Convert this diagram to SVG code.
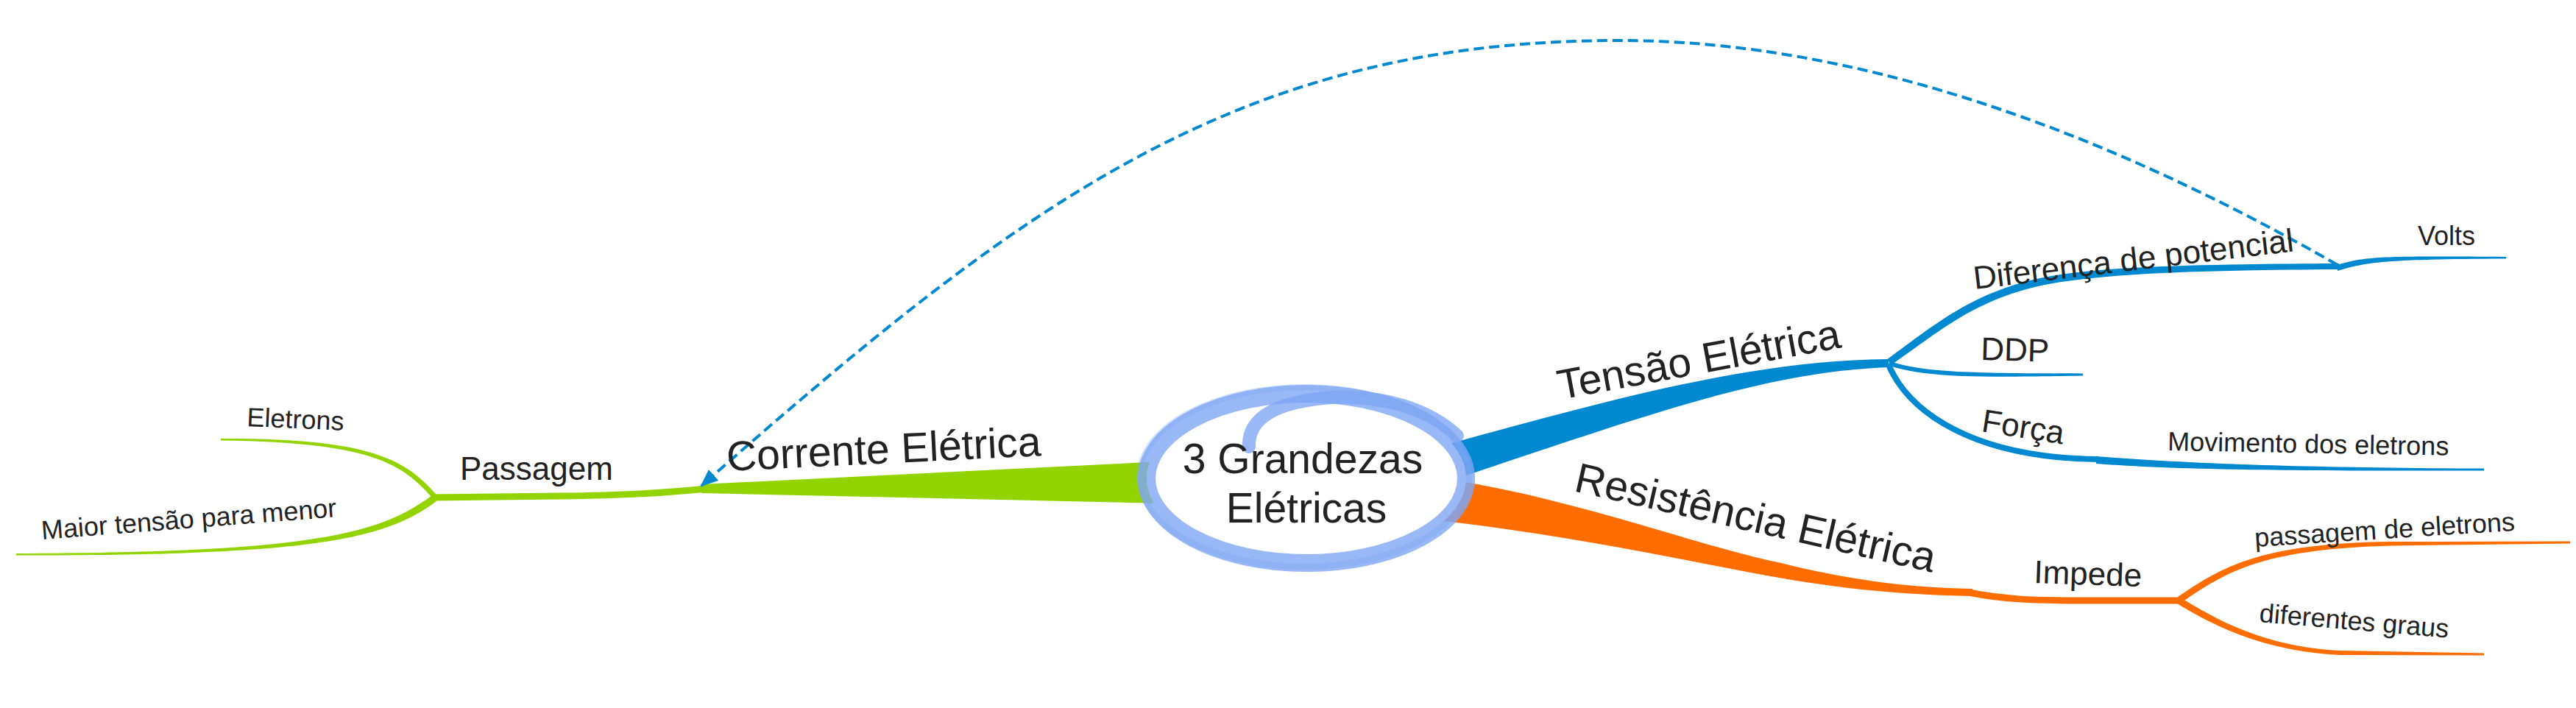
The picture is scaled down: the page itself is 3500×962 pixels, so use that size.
<svg xmlns="http://www.w3.org/2000/svg" width="3500" height="962" viewBox="0 0 3500 962">
<defs>
<style>
text { font-family: "Liberation Sans", Arial, sans-serif; fill: #222222; }
.t1 { font-size: 57px; }
.t2 { font-size: 44px; }
.t3 { font-size: 36px; }
.gf { fill: #93d400; }
.bf { fill: #0088d1; }
.of { fill: #ff6d00; }
.gs { stroke: #93d400; fill: none; }
.bs { stroke: #0088d1; fill: none; }
.os { stroke: #ff6d00; fill: none; }
.rel { stroke: #0088d1; stroke-width: 4; stroke-dasharray: 14 7; fill: none; }
.band { fill: none; stroke: #7ea6f4; stroke-linecap: round; }
</style>
<marker id="arr" markerUnits="userSpaceOnUse" markerWidth="24" markerHeight="20" viewBox="0 0 24 20" refX="22" refY="10" orient="auto">
<path d="M0,0 L24,10 L0,20 z" fill="#0088d1"/>
</marker>
</defs>
<rect width="3500" height="962" fill="#ffffff"/>

<g id="connectors">
<!-- green: Corrente Elétrica -->
<path class="gf" d="M1580,627 L953,658 L953,670 L1580,684 Z"/>
<path class="gs" stroke-width="9" d="M960,664 C900,670 850,673 760,674 L587,676"/>
<path class="gf" d="M593,672 C553,628 512,595 300,596 L300,598.5 C510,601 547,632 587,676 Z"/>
<path class="gf" d="M587,673 C517,726 420,751 22,752 L22,754.5 C420,755 523,734 593,681 Z"/>
<!-- blue: Tensão Elétrica -->
<path class="bf" d="M1965,604 C2200,540 2380,490 2565,488 L2568,499 C2400,505 2250,560 1962,656 Z"/>
<path class="bf" d="M2563,489 C2636,436 2688,390 2799,373 C2880,361 3000,359 3178,358 L3178,366 C3000,367 2880,371 2801,383 C2692,400 2644,444 2571,495 Z"/>
<path class="bf" d="M3176,360 C3215,348 3240,348 3405,349 L3405,351.5 C3240,352 3215,356 3176,368 Z"/>
<path class="bf" d="M2567,491 C2620,507 2680,507 2830,507.5 L2830,510.5 C2680,513 2620,513 2567,497 Z"/>
<path class="bs" stroke-width="8" d="M2567,498 C2595,560 2680,622 2850,624"/>
<path class="bf" d="M2848,620 C2950,628 3100,636 3375,636.5 L3375,639.5 C3100,640 2950,638 2848,630 Z"/>
<!-- orange: Resistência Elétrica -->
<path class="of" d="M1962,650 C2150,680 2300,740 2420,765 C2500,785 2580,798 2680,800 L2680,810 C2580,808 2500,800 2400,782 C2280,760 2150,730 1962,708 Z"/>
<path class="os" stroke-width="9" d="M2675,805 C2720,814 2760,816 2830,816 L2964,816"/>
<path class="of" d="M2959,811 C3017,772 3068,738 3250,736 L3492,735.5 L3492,738.5 L3250,741.5 C3072,746 3023,778 2965,818 Z"/>
<path class="of" d="M2966,814 C3004,837 3072,879 3180,884 L3375,887.5 L3375,890.5 L3180,890 C3068,885 2996,843 2958,820 Z"/>
<!-- relationship -->
<path class="rel" marker-end="url(#arr)" d="M3176,360 C2759,121 2436,55 2200,55 C1680,55 1388.6,277 953,660"/>
</g>

<g id="central">
<ellipse cx="1775" cy="650" rx="217" ry="115" fill="#ffffff"/>
<ellipse class="band" cx="1775" cy="650" rx="217" ry="115" stroke-width="24" opacity="0.8"/>
<ellipse class="band" cx="1772" cy="648" rx="224" ry="122" stroke-width="8" opacity="0.35"/>
<path class="band" stroke-width="18" opacity="0.8" d="M1697,607 C1695,565 1740,545 1810,540 C1880,537 1940,555 1980,592"/>
<text class="t1" x="1770" y="643" text-anchor="middle">3 Grandezas</text>
<text class="t1" x="1775" y="710" text-anchor="middle">Elétricas</text>
</g>

<g id="corrente"><text class="t1" x="988" y="640" transform="rotate(-2.8 988 640)">Corrente Elétrica</text></g>
<g id="passagem"><text class="t2" x="625" y="652">Passagem</text></g>
<g id="eletrons"><text class="t3" x="335" y="579" transform="rotate(2.5 335 579)">Eletrons</text></g>
<g id="maior"><text class="t3" x="57" y="733" transform="rotate(-4.4 57 733)">Maior tensão para menor</text></g>

<g id="tensao"><text class="t1" x="2120" y="543" transform="rotate(-10.5 2120 543)">Tensão Elétrica</text></g>
<g id="diferenca"><text class="t2" x="2683" y="393" transform="rotate(-6.8 2683 393)">Diferença de potencial</text></g>
<g id="volts"><text class="t3" x="3285" y="333">Volts</text></g>
<g id="ddp"><text class="t2" x="2691" y="489" transform="rotate(1.5 2691 489)">DDP</text></g>
<g id="forca"><text class="t2" x="2691" y="586" transform="rotate(9 2691 586)">Força</text></g>
<g id="movimento"><text class="t3" x="2945" y="612" transform="rotate(1 2945 612)">Movimento dos eletrons</text></g>

<g id="resistencia"><text class="t1" x="2137" y="667" transform="rotate(12.8 2137 667)">Resistência Elétrica</text></g>
<g id="impede"><text class="t2" x="2763" y="792" transform="rotate(2 2763 792)">Impede</text></g>
<g id="passagem-eletrons"><text class="t3" x="3064" y="743" transform="rotate(-3.6 3064 743)">passagem de eletrons</text></g>
<g id="diferentes"><text class="t3" x="3069" y="845" transform="rotate(4.8 3069 845)">diferentes graus</text></g>
</svg>
